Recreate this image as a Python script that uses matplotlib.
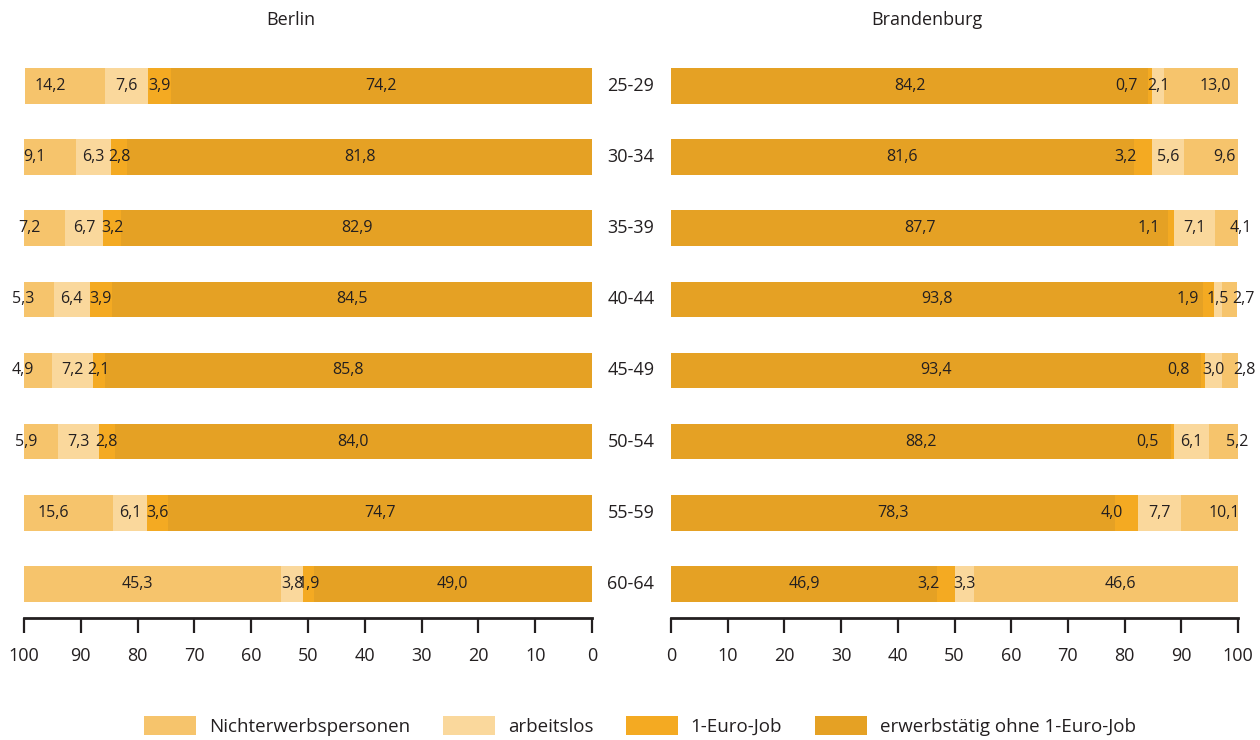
import matplotlib
matplotlib.use("Agg")
import matplotlib.pyplot as plt
from matplotlib.transforms import blended_transform_factory

plt.rcParams["font.family"] = ["Open Sans", "DejaVu Sans"]

age_groups = ["25-29", "30-34", "35-39", "40-44", "45-49", "50-54", "55-59", "60-64"]
series_names = ["Nichterwerbspersonen", "arbeitslos", "1-Euro-Job",
                "erwerbstätig ohne 1-Euro-Job"]

# Berlin, Anteile in %
berlin_nichterwerb = [14.2, 9.1, 7.2, 5.3, 4.9, 5.9, 15.6, 45.3]
berlin_arbeitslos = [7.6, 6.3, 6.7, 6.4, 7.2, 7.3, 6.1, 3.8]
berlin_euro_job = [3.9, 2.8, 3.2, 3.9, 2.1, 2.8, 3.6, 1.9]
berlin_erwerb = [74.2, 81.8, 82.9, 84.5, 85.8, 84.0, 74.7, 49.0]

# Brandenburg, Anteile in %
bbg_nichterwerb = [13.0, 9.6, 4.1, 2.7, 2.8, 5.2, 10.1, 46.6]
bbg_arbeitslos = [2.1, 5.6, 7.1, 1.5, 3.0, 6.1, 7.7, 3.3]
bbg_euro_job = [0.7, 3.2, 1.1, 1.9, 0.8, 0.5, 4.0, 3.2]
bbg_erwerb = [84.2, 81.6, 87.7, 93.8, 93.4, 88.2, 78.3, 46.9]

colors = {
    "Nichterwerbspersonen": "#F6C46C",
    "arbeitslos": "#FAD89C",
    "1-Euro-Job": "#F4AA22",
    "erwerbstätig ohne 1-Euro-Job": "#E5A124",
}
text_color = "#231F20"


def fmt(v):
    return f"{v:.1f}".replace(".", ",")


def draw_panel(ax, values, label_style):
    # stacked from 0 outwards: erwerbstaetig, 1-Euro-Job, arbeitslos, Nichterwerb
    order = ["erwerbstätig ohne 1-Euro-Job", "1-Euro-Job", "arbeitslos",
             "Nichterwerbspersonen"]
    y = list(range(len(age_groups)))
    left = [0.0] * len(age_groups)
    for name in order:
        vals = values[name]
        ax.barh(y, vals, left=left, height=0.5, color=colors[name],
                label=name, linewidth=0)
        ha, offset, anchor = label_style.get(name, ("center", 0, "mid"))
        for i, v in enumerate(vals):
            if anchor == "end":
                xpos = left[i] + v
            else:
                xpos = left[i] + v / 2
            ax.annotate(fmt(v), xy=(xpos, i), xytext=(offset, 0),
                        textcoords="offset pixels", ha=ha, va="center",
                        fontsize=11.5, color=text_color, annotation_clip=False)
        left = [l + v for l, v in zip(left, vals)]

    ax.set_ylim(7.48, -0.506)
    ax.set_xticks(range(0, 101, 10))
    ax.set_yticks([])
    for side in ["top", "right", "left"]:
        ax.spines[side].set_visible(False)
    ax.spines["bottom"].set_linewidth(2)
    ax.spines["bottom"].set_color(text_color)
    ax.tick_params(axis="x", direction="out", length=11, width=1.6,
                   colors=text_color, labelsize=13, pad=10)


fig = plt.figure(figsize=(12.6, 7.4), dpi=100)
ax_b = fig.add_axes([24 / 1260, 1 - 618 / 740, 568 / 1260, 568 / 740])
ax_bb = fig.add_axes([671 / 1260, 1 - 618 / 740, 567 / 1260, 568 / 740])

berlin = {
    "Nichterwerbspersonen": berlin_nichterwerb,
    "arbeitslos": berlin_arbeitslos,
    "1-Euro-Job": berlin_euro_job,
    "erwerbstätig ohne 1-Euro-Job": berlin_erwerb,
}
brandenburg = {
    "Nichterwerbspersonen": bbg_nichterwerb,
    "arbeitslos": bbg_arbeitslos,
    "1-Euro-Job": bbg_euro_job,
    "erwerbstätig ohne 1-Euro-Job": bbg_erwerb,
}

draw_panel(ax_b, berlin, {"Nichterwerbspersonen": ("center", -15, "mid")})
draw_panel(ax_bb, brandenburg, {"Nichterwerbspersonen": ("center", 14, "mid"),
                                "1-Euro-Job": ("right", -15, "end")})
ax_b.set_xlim(100, 0)
ax_bb.set_xlim(0, 100)

# age group labels between the panels
trans = blended_transform_factory(fig.transFigure, ax_b.transData)
for i, g in enumerate(age_groups):
    fig.text(631 / 1260, i, g, transform=trans, ha="center", va="center",
             fontsize=13, color=text_color)

fig.text(291 / 1260, 1 - 20 / 740, "Berlin", ha="center", va="center",
         fontsize=13, color=text_color)
fig.text(927 / 1260, 1 - 20 / 740, "Brandenburg", ha="center", va="center",
         fontsize=13, color=text_color)

handles, labels = ax_b.get_legend_handles_labels()
lookup = dict(zip(labels, handles))
fig.legend([lookup[n] for n in series_names], series_names, loc="center",
           bbox_to_anchor=(640 / 1260, 1 - 726 / 740), ncol=4, frameon=False,
           fontsize=13.5, handlelength=2.75, handleheight=1.2,
           handletextpad=0.7, columnspacing=1.75, labelcolor=text_color)

fig.savefig("out.png", dpi=100)
